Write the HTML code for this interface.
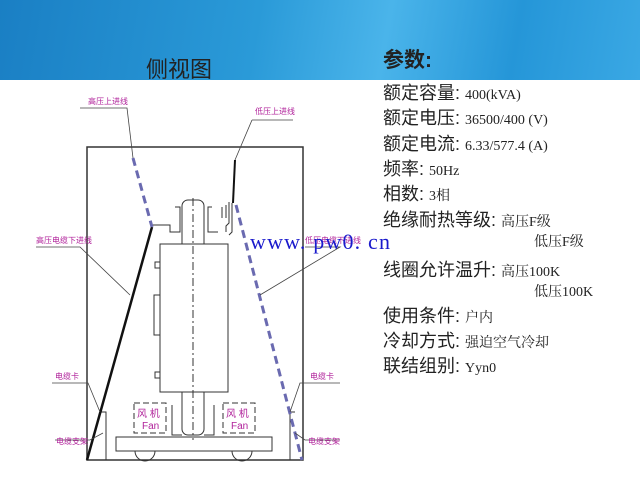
<!DOCTYPE html>
<html><head><meta charset="utf-8"><style>
body{margin:0;width:640px;height:480px;overflow:hidden;background:#fff;position:relative;font-family:"Liberation Sans","Noto Sans CJK SC",sans-serif}
.hdr{position:absolute;left:0;top:0;width:640px;height:80px;background:linear-gradient(100deg,#1a7fc4 0%,#2a9ad8 40%,#4ab4ea 60%,#2596d8 80%,#3aa8e4 100%)}
.t{position:absolute;color:#222;white-space:nowrap}
.k{font-size:18px}
.v{font-size:14px;font-family:"Liberation Serif","Noto Serif CJK SC",serif}
</style></head><body>
<div class="hdr"></div>
<div class="t" style="left:146px;top:52px;font-size:22px">侧视图</div>
<div class="t" style="left:383px;top:44px;font-size:21px;font-weight:bold">参数:</div>
<div class="t k" style="left:383px;top:79px">额定容量: <span class="v">400(kVA)</span></div>
<div class="t k" style="left:383px;top:104px">额定电压: <span class="v">36500/400 (V)</span></div>
<div class="t k" style="left:383px;top:130px">额定电流: <span class="v">6.33/577.4 (A)</span></div>
<div class="t k" style="left:383px;top:155px">频率: <span class="v">50Hz</span></div>
<div class="t k" style="left:383px;top:180px">相数: <span class="v">3相</span></div>
<div class="t k" style="left:383px;top:206px">绝缘耐热等级: <span class="v">高压F级</span></div>
<div class="t v" style="left:534px;top:231px">低压F级</div>
<div class="t k" style="left:383px;top:256px">线圈允许温升: <span class="v">高压100K</span></div>
<div class="t v" style="left:534px;top:281px">低压100K</div>
<div class="t k" style="left:383px;top:302px">使用条件: <span class="v">户内</span></div>
<div class="t k" style="left:383px;top:327px">冷却方式: <span class="v">强迫空气冷却</span></div>
<div class="t k" style="left:383px;top:352px">联结组别: <span class="v">Yyn0</span></div>
<svg style="position:absolute;left:0;top:0" width="640" height="480">
<g fill="none" stroke="#333" stroke-width="1">
<rect x="87" y="147" width="216" height="313" stroke-width="1.5"/>
<rect x="182" y="200" width="22" height="235" rx="6"/>
<rect x="160" y="244" width="68" height="148" fill="#fff"/>
<rect x="155" y="262" width="5" height="6"/><rect x="154" y="295" width="6" height="40"/><rect x="155" y="372" width="5" height="6"/>
<rect x="116" y="437" width="156" height="14"/>
<path d="M135 451 a10 10 0 0 0 20 0 M232 451 a10 10 0 0 0 20 0"/>
<path d="M193 198 V440" stroke-dasharray="8,3,2,3"/>
<path d="M175 207 H180 V232 H170 V225 H152 M212 207 H208 V232 H218 M222 207 V218 M226 205 V218 M226 232 V226 L229 223 V202 M229 235 L232 232 V203"/>
<path d="M100 412 H106 V460 M295 412 H290 V460"/>
<rect x="134" y="403" width="32" height="30" stroke-dasharray="6,3"/>
<rect x="223" y="403" width="32" height="30" stroke-dasharray="6,3"/>
<path d="M172 405 V435 H182 M214 405 V435 H204"/>
</g>
<path d="M152 227 L87 460" stroke="#111" stroke-width="2.5"/>
<path d="M235 160 L233 203" stroke="#111" stroke-width="2"/>
<path d="M133 158 L152 227" stroke="#6a6ab0" stroke-width="3" stroke-dasharray="8,5"/>
<path d="M236 205 L302 460" stroke="#6a6ab0" stroke-width="3" stroke-dasharray="8,5"/>
<g stroke="#444" stroke-width="0.8" fill="none">
<path d="M80 108 H127 L133 158"/>
<path d="M252 120 H293 M252 120 L235 160"/>
<path d="M36 247 H80 L130 295"/>
<path d="M305 247 H340 L260 295"/>
<path d="M52 383 H88 L100 412"/>
<path d="M55 440 H90 L103 433"/>
<path d="M340 383 H300 L290 412"/>
<path d="M340 440 H305 L295 433"/>
</g>
<g fill="#b0209a" font-size="8" font-family="Liberation Sans,Noto Sans CJK SC,sans-serif">
<text x="88" y="104">高压上进线</text>
<text x="255" y="114">低压上进线</text>
<text x="36" y="243">高压电缆下进线</text>
<text x="305" y="243">低压电缆下进线</text>
<text x="55" y="379">电缆卡</text>
<text x="310" y="379">电缆卡</text>
<text x="56" y="444">电缆支架</text>
<text x="308" y="444">电缆支架</text>
<text x="137" y="417" font-size="10">风 机</text><text x="142" y="429" font-size="10">Fan</text>
<text x="226" y="417" font-size="10">风 机</text><text x="231" y="429" font-size="10">Fan</text>
</g>
<text x="250" y="249" fill="#1a1acc" font-size="22" font-family="Liberation Serif,serif" textLength="140">www. pw0. cn</text>
</svg>
</body></html>
